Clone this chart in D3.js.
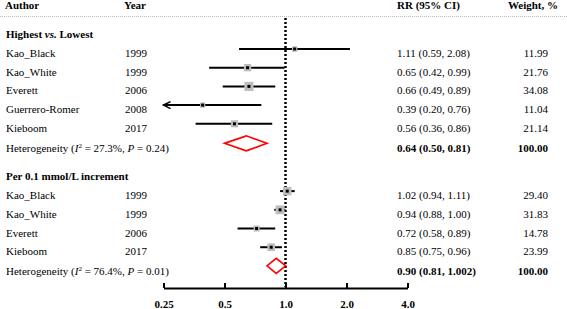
<!DOCTYPE html>
<html>
<head>
<meta charset="utf-8">
<script src="https://cdn.jsdelivr.net/npm/d3@7"></script>
<style>
  body { margin: 0; background: #fff; }
  svg { display: block; font-family: "Liberation Serif", "Times New Roman", serif; font-size: 11px; }
  .bold { font-weight: bold; }
</style>
</head>
<body>
<svg id="chart" width="567" height="309"></svg>
<script>
// group 1: highest vs lowest
var authors1 = ["Kao_Black", "Kao_White", "Everett", "Guerrero-Romer", "Kieboom"];
var years1 = ["1999", "1999", "2006", "2008", "2017"];
var rr1 = [1.11, 0.65, 0.66, 0.39, 0.56];
var lo1 = [0.59, 0.42, 0.49, 0.20, 0.36];
var hi1 = [2.08, 0.99, 0.89, 0.76, 0.86];
var weight1 = [11.99, 21.76, 34.08, 11.04, 21.14];
var pooled1 = [0.64, 0.50, 0.81, 100.00];
var het1 = ["27.3%", "0.24"];

// group 2: per 0.1 mmol/L increment
var authors2 = ["Kao_Black", "Kao_White", "Everett", "Kieboom"];
var years2 = ["1999", "1999", "2006", "2017"];
var rr2 = [1.02, 0.94, 0.72, 0.85];
var lo2 = [0.94, 0.88, 0.58, 0.75];
var hi2 = [1.11, 1.00, 0.89, 0.96];
var weight2 = [29.40, 31.83, 14.78, 23.99];
var pooled2 = [0.90, 0.81, 1.002, 100.00];
var het2 = ["76.4%", "0.01"];

var tickValues = [0.25, 0.5, 1, 2, 4];
var tickLabels = ["0.25", "0.5", "1.0", "2.0", "4.0"];

var svg = d3.select("#chart");

var x = d3.scaleLog().base(2)
    .domain([0.25, 4])
    .range([163.5, 407.5]);

// row index -> y of the marks
var y = d3.scaleLinear()
    .domain([0, 1])
    .range([30.3, 49]);

var f2 = d3.format(".2f");
function fmt(v) {
    return Math.abs(Math.round(v * 100) - v * 100) < 1e-9 ? f2(v) : String(v);
}

// header
var header = svg.append("g").attr("class", "bold");
header.append("text").attr("x", 5).attr("y", 9).text("Author");
header.append("text").attr("x", 124).attr("y", 9).text("Year");
header.append("text").attr("x", 397).attr("y", 9).text("RR (95% CI)");
header.append("text").attr("x", 558).attr("y", 9).attr("text-anchor", "end").text("Weight, %");

svg.append("line")
    .attr("x1", 0).attr("x2", 567)
    .attr("y1", 16.5).attr("y2", 16.5)
    .style("stroke", "#bbb")
    .style("stroke-dasharray", "1,1");

// reference line at 1
svg.append("line")
    .attr("x1", x(1)).attr("x2", x(1))
    .attr("y1", 18).attr("y2", 287)
    .style("stroke", "#000")
    .style("stroke-width", 2.5)
    .style("stroke-dasharray", "2,2");

function drawGroup(title, titleItalic, authors, years, rr, lo, hi, weight, pooled, het, startIdx, hetIdx) {
    var g = svg.append("g");

    var t = g.append("text").attr("class", "bold")
        .attr("x", 6).attr("y", y(startIdx) + 8);
    if (titleItalic) {
        t.append("tspan").text(title[0]);
        t.append("tspan").style("font-style", "italic").text(titleItalic);
        t.append("tspan").text(title[1]);
    } else {
        t.text(title);
    }

    var rows = authors.map(function (a, i) {
        return { author: a, year: years[i], rr: rr[i], lo: lo[i], hi: hi[i], w: weight[i], idx: startIdx + 1 + i };
    });

    var row = g.selectAll(".study")
        .data(rows)
        .enter().append("g")
        .attr("class", "study");

    row.append("text").attr("x", 6).attr("y", function (d) { return y(d.idx) + 8; })
        .text(function (d) { return d.author; });
    row.append("text").attr("x", 125).attr("y", function (d) { return y(d.idx) + 8; })
        .text(function (d) { return d.year; });
    row.append("text").attr("x", 397).attr("y", function (d) { return y(d.idx) + 8; })
        .text(function (d) { return fmt(d.rr) + " (" + fmt(d.lo) + ", " + fmt(d.hi) + ")"; });
    row.append("text").attr("x", 548).attr("y", function (d) { return y(d.idx) + 8; })
        .attr("text-anchor", "end")
        .text(function (d) { return f2(d.w); });

    // confidence intervals
    row.append("line")
        .attr("x1", function (d) { return x(Math.max(d.lo, 0.25)); })
        .attr("x2", function (d) { return x(Math.min(d.hi, 4)); })
        .attr("y1", function (d) { return y(d.idx); })
        .attr("y2", function (d) { return y(d.idx); })
        .style("stroke", "#000")
        .style("stroke-width", 2);

    // arrows for clipped intervals
    row.filter(function (d) { return d.lo < 0.25; })
        .append("path")
        .attr("d", function (d) {
            var x0 = x(0.25), y0 = y(d.idx);
            return "M" + (x0 + 7) + "," + (y0 - 3.5) + "L" + x0 + "," + y0 + "L" + (x0 + 7) + "," + (y0 + 3.5);
        })
        .style("fill", "none")
        .style("stroke", "#000")
        .style("stroke-width", 1.6);

    // weight squares
    row.append("rect")
        .attr("x", function (d) { return x(d.rr) - 0.78 * Math.sqrt(d.w); })
        .attr("y", function (d) { return y(d.idx) - 0.78 * Math.sqrt(d.w); })
        .attr("width", function (d) { return 1.56 * Math.sqrt(d.w); })
        .attr("height", function (d) { return 1.56 * Math.sqrt(d.w); })
        .style("fill", "#bdbdbd");

    row.append("rect")
        .attr("x", function (d) { return x(d.rr) - 1.5; })
        .attr("y", function (d) { return y(d.idx) - 1.5; })
        .attr("width", 3)
        .attr("height", 3)
        .style("fill", "#000");

    // pooled estimate
    var hy = y(hetIdx);
    var ht = g.append("text").attr("x", 6).attr("y", hy + 8);
    ht.append("tspan").text("Heterogeneity (");
    ht.append("tspan").style("font-style", "italic").text("I");
    ht.append("tspan").attr("dy", -4).style("font-size", "7px").text("2");
    ht.append("tspan").attr("dy", 4).text(" = " + het[0] + ", ");
    ht.append("tspan").style("font-style", "italic").text("P");
    ht.append("tspan").text(" = " + het[1] + ")");

    g.append("text").attr("class", "bold").attr("x", 397).attr("y", hy + 8)
        .text(fmt(pooled[0]) + " (" + fmt(pooled[1]) + ", " + fmt(pooled[2]) + ")");
    g.append("text").attr("class", "bold").attr("x", 548).attr("y", hy + 8)
        .attr("text-anchor", "end")
        .text(f2(pooled[3]));

    var dy = hy - 1;
    g.append("path")
        .attr("d", "M" + x(pooled[1]) + "," + dy +
                   "L" + x(pooled[0]) + "," + (dy - 7.5) +
                   "L" + x(pooled[2]) + "," + dy +
                   "L" + x(pooled[0]) + "," + (dy + 7.5) + "Z")
        .style("fill", "#fff")
        .style("stroke", "#f00")
        .style("stroke-width", 1.6);
}

drawGroup(["Highest ", " Lowest"], "vs.", authors1, years1, rr1, lo1, hi1, weight1, pooled1, het1, 0, 6.1);
drawGroup("Per 0.1 mmol/L increment", null, authors2, years2, rr2, lo2, hi2, weight2, pooled2, het2, 7.6, 12.65);

// axis
var xAxis = d3.axisBottom(x)
    .tickValues(tickValues)
    .tickFormat(function (d, i) { return tickLabels[i]; })
    .tickSizeInner(-5)
    .tickSizeOuter(0)
    .tickPadding(12);

var ax = svg.append("g")
    .attr("transform", "translate(0,288)")
    .call(xAxis);

ax.select(".domain").style("stroke-width", 2);
ax.selectAll(".tick line").style("stroke-width", 2);
ax.selectAll(".tick text")
    .style("font-family", "'Liberation Serif', 'Times New Roman', serif")
    .style("font-size", "11px")
    .style("font-weight", "bold");
</script>
</body>
</html>
